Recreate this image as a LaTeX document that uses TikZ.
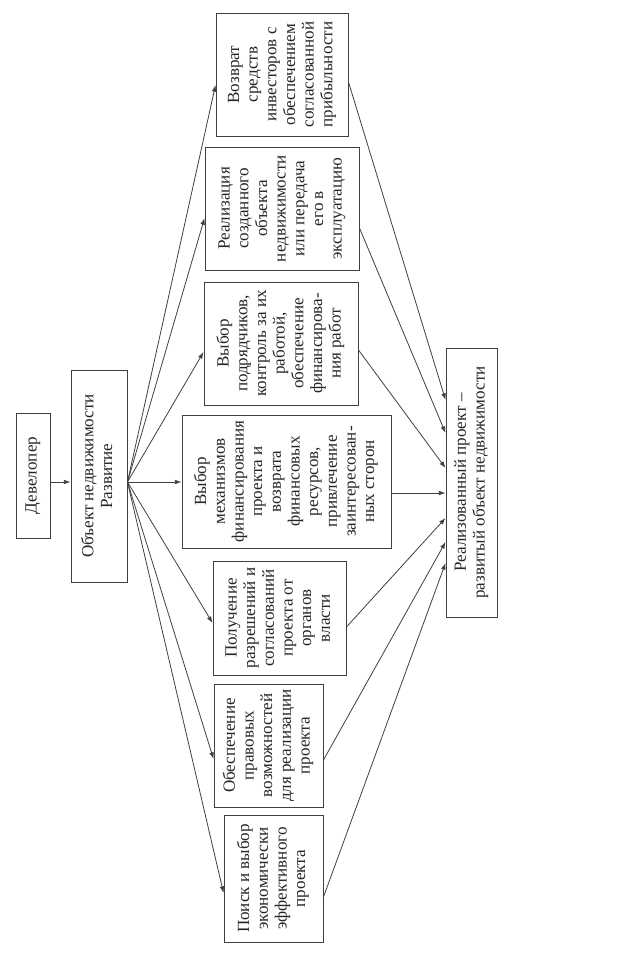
\documentclass[tikz,border=0pt]{standalone}
\usepackage{fontspec}
\setmainfont{Liberation Serif}
\usepackage{graphicx}
\usetikzlibrary{arrows.meta}
\tikzset{
  box/.style={draw=black!75, line width=0.7pt, inner sep=0pt,
    font=\fontsize{12.8}{14}\selectfont, text=black!85},
  link/.style={draw=black!75, line width=0.6pt, -{Latex[length=5pt,width=3.5pt]}},
}
\newcommand{\rtext}[1]{\rotatebox{90}{\begin{tabular}{@{}c@{}}#1\end{tabular}}}
\newcommand{\bx}[6]{\node[box, minimum width={(#4-#2)*0.75pt}, minimum height={(#5-#3)*0.75pt}] (#1) at ({(#2+#4)/2},{(#3+#5)/2}) {\rtext{#6}};}
\begin{document}
\begin{tikzpicture}[x=0.75pt,y=-0.75pt]
\useasboundingbox[fill=white] (0,0) rectangle (639,960);

\bx{dev}{16}{413}{50}{538}{Девелопер}
\bx{obj}{71}{370}{127}{582}{Объект недвижимости\\Развитие}

\bx{vozvrat}{216}{13}{348}{136}{Возврат\\средств\\инвесторов с\\обеспечением\\согласованной\\прибыльности}
\bx{real}{205}{147}{359}{270}{Реализация\\созданного\\объекта\\недвижимости\\или передача\\его в\\эксплуатацию}
\bx{podr}{204}{282}{358}{405}{Выбор\\подрядчиков,\\контроль за их\\работой,\\обеспечение\\финансирова-\\ния работ}
\bx{mech}{182}{415}{391}{548}{Выбор\\механизмов\\финансирования\\проекта и\\возврата\\финансовых\\ресурсов,\\привлечение\\заинтересован-\\ных сторон}
\bx{poluch}{213}{561}{346}{675}{Получение\\разрешений и\\согласований\\проекта от\\органов\\власти}
\bx{obesp}{214}{684}{323}{807}{Обеспечение\\правовых\\возможностей\\для реализации\\проекта}
\bx{poisk}{224}{815}{323}{942}{Поиск и выбор\\экономически\\эффективного\\проекта}

\bx{final}{446}{348}{497}{617}{Реализованный проект –\\развитый объект недвижимости}

% developer -> object
\draw[link] (dev.east |- 0,482) -- (obj.west |- 0,482);

% fan out
\draw[link] (obj.east |- 0,482) -- (vozvrat.west |- 0,85);
\draw[link] (obj.east |- 0,482) -- (real.west |- 0,218);
\draw[link] (obj.east |- 0,482) -- (podr.west |- 0,352);
\draw[link] (obj.east |- 0,482) -- (mech.west |- 0,482);
\draw[link] (obj.east |- 0,482) -- (poluch.west |- 0,623);
\draw[link] (obj.east |- 0,482) -- (obesp.west |- 0,759);
\draw[link] (obj.east |- 0,482) -- (poisk.west |- 0,893);

% fan in
\draw[link] (vozvrat.east |- 0,82) -- (final.west |- 0,400);
\draw[link] (real.east |- 0,228) -- (final.west |- 0,433);
\draw[link] (podr.east |- 0,350) -- (final.west |- 0,468);
\draw[link] (mech.east |- 0,493) -- (final.west |- 0,493);
\draw[link] (poluch.east |- 0,627) -- (final.west |- 0,518);
\draw[link] (obesp.east |- 0,760) -- (final.west |- 0,542);
\draw[link] (poisk.east |- 0,897) -- (final.west |- 0,563);
\end{tikzpicture}
\end{document}
